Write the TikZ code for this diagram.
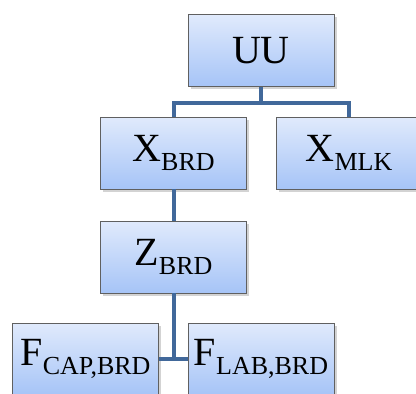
\documentclass[tikz,border=0pt]{standalone}
\usepackage{fontspec}
\setmainfont{Liberation Serif}
\usetikzlibrary{shadows,calc}

\definecolor{boxtop}{RGB}{224,234,252}
\definecolor{boxbot}{RGB}{166,196,247}
\definecolor{linkblue}{RGB}{65,104,154}

% subscript set below the baseline, as in the level labels
\newcommand{\lvsub}[1]{\raisebox{-9pt}{\fontsize{26}{26}\selectfont #1}}

\begin{document}
\begin{tikzpicture}[
  x=1pt, y=-1pt,
  level/.style={draw=gray!75!black, line width=0.8pt,
    top color=boxtop, bottom color=boxbot,
    minimum width=146pt, minimum height=72pt, inner sep=0pt,
    font=\fontsize{40}{40}\selectfont,
    drop shadow={shadow xshift=2.5pt, shadow yshift=-2.5pt, opacity=0.35}},
  link/.style={line width=4pt, draw=linkblue}
]
  \useasboundingbox (0,0) rectangle (416,394);

  % Tree levels
  \node[level] (uu)   at (261,50.5)  {UU};
  \node[level] (xbrd) at (173.5,153) {X\lvsub{BRD}};
  \node[level] (xmlk) at (349,153)   {X\lvsub{MLK}};
  \node[level] (zbrd) at (173.5,257) {Z\lvsub{BRD}};
  \node[level] (fcap) at (85.5,359)  {F\lvsub{CAP,BRD}};
  \node[level] (flab) at (261,359)   {F\lvsub{LAB,BRD}};

  % UU splits into the two X nodes
  \coordinate (split) at ($(uu.south)+(0,16)$);
  \draw[link] (uu.south) -- (split) -| (xbrd.north);
  \draw[link] (split) -| (xmlk.north);

  % X_BRD -> Z_BRD
  \draw[link] (xbrd.south) -- (zbrd.north);

  % Z_BRD branches to both F nodes
  \draw[link] (zbrd.south) -- (zbrd.south |- fcap.east);
  \draw[link] (fcap.east) -- (flab.west);

\end{tikzpicture}
\end{document}
